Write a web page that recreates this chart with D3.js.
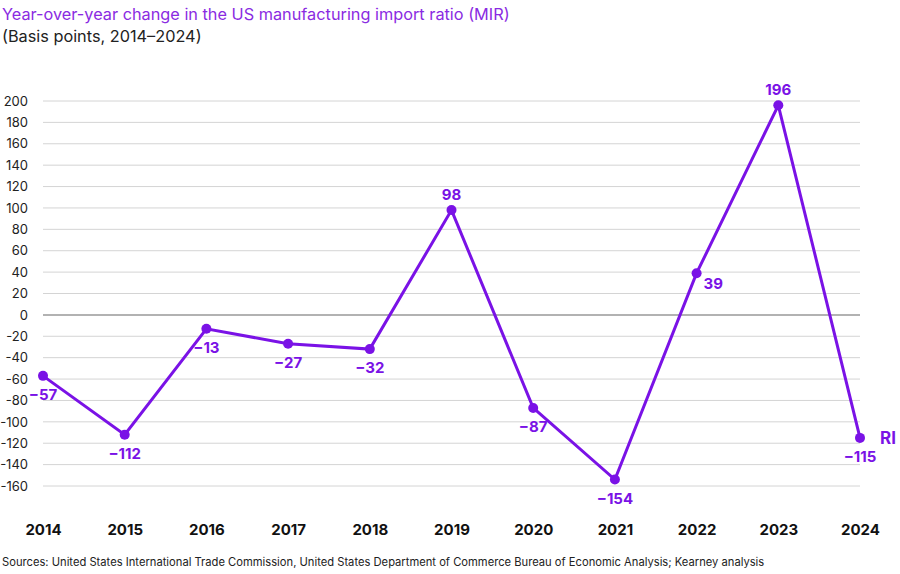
<!DOCTYPE html>
<html>
<head>
<meta charset="utf-8">
<script src="https://cdn.jsdelivr.net/npm/d3@7"></script>
<style>
  body { margin: 0; background: #fff; }
  text { font-family: Inter, "Noto Sans", sans-serif; }
</style>
</head>
<body>
<div id="main"></div>
<script>
const years = [2014, 2015, 2016, 2017, 2018, 2019, 2020, 2021, 2022, 2023, 2024];
const values = [-57, -112, -13, -27, -32, 98, -87, -154, 39, 196, -115];
// where each value label sits relative to its point
const labelPos = ["below", "below", "below", "below", "below", "above", "below", "below", "right", "above", "below"];
const yTicks = [200, 180, 160, 140, 120, 100, 80, 60, 40, 20, 0, -20, -40, -60, -80, -100, -120, -140, -160];

const width = 900, height = 574;
const purple = "#7a12e6";

const svg = d3.select("#main").append("svg")
  .attr("width", width)
  .attr("height", height);

const x = d3.scalePoint().domain(years).range([43, 860]);
const y = d3.scaleLinear().domain([-160, 200]).range([486, 101]);

// title
svg.append("text")
  .attr("x", 2).attr("y", 20)
  .style("font-size", "16.3px")
  .style("fill", "#8a2be2")
  .text("Year-over-year change in the US manufacturing import ratio (MIR)");
svg.append("text")
  .attr("x", 2).attr("y", 42)
  .style("font-size", "16.3px")
  .style("fill", "#222")
  .text("(Basis points, 2014–2024)");

// gridlines
svg.append("g").selectAll("line")
  .data(yTicks)
  .join("line")
  .attr("x1", 43).attr("x2", 860)
  .attr("y1", d => y(d)).attr("y2", d => y(d))
  .attr("stroke", d => d === 0 ? "#999" : "#d4d4d4")
  .attr("stroke-width", d => d === 0 ? 1.5 : 1);

// y axis labels
const yAxis = d3.axisLeft(y).tickValues(yTicks).tickSize(0).tickPadding(0)
  .tickFormat(d => d < 0 ? "-" + Math.abs(d) : d);
svg.append("g")
  .attr("transform", "translate(28,0)")
  .call(yAxis)
  .call(g => g.select(".domain").remove())
  .selectAll("text")
  .style("font-size", "13px")
  .style("font-family", "Inter, 'Noto Sans', sans-serif")
  .style("fill", "#222");

// x axis labels
const xAxis = d3.axisBottom(x).tickSize(0).tickPadding(0);
svg.append("g")
  .attr("transform", "translate(0,524)")
  .call(xAxis)
  .call(g => g.select(".domain").remove())
  .selectAll("text")
  .style("font-size", "15px")
  .style("font-weight", "700")
  .style("font-family", "Inter, 'Noto Sans', sans-serif")
  .style("fill", "#111");

// line
const line = d3.line().x((d, i) => x(years[i])).y(d => y(d));
svg.append("path")
  .datum(values)
  .attr("d", line)
  .attr("fill", "none")
  .attr("stroke", purple)
  .attr("stroke-width", 3);

svg.append("g").selectAll("circle")
  .data(values)
  .join("circle")
  .attr("cx", (d, i) => x(years[i]))
  .attr("cy", d => y(d))
  .attr("r", 5)
  .attr("fill", purple);

// value labels
const fmt = d => d < 0 ? "\u2212" + Math.abs(d) : "" + d;
svg.append("g").selectAll("text")
  .data(values)
  .join("text")
  .attr("x", (d, i) => labelPos[i] === "right" ? x(years[i]) + 7 : x(years[i]))
  .attr("y", (d, i) => {
    const p = labelPos[i];
    if (p === "above") return y(d) - 10;
    if (p === "right") return y(d) + 16;
    return y(d) + 24;
  })
  .attr("text-anchor", (d, i) => labelPos[i] === "right" ? "start" : "middle")
  .style("font-size", "15px")
  .style("font-weight", "700")
  .style("fill", purple)
  .text(fmt);

svg.append("text")
  .attr("x", 880).attr("y", y(-115) + 6)
  .style("font-size", "17px")
  .style("font-weight", "700")
  .style("fill", purple)
  .text("RI");

// source
svg.append("text")
  .attr("x", 2).attr("y", 566)
  .style("font-size", "11.2px")
  .style("fill", "#222")
  .text("Sources: United States International Trade Commission, United States Department of Commerce Bureau of Economic Analysis; Kearney analysis");
</script>
</body>
</html>
